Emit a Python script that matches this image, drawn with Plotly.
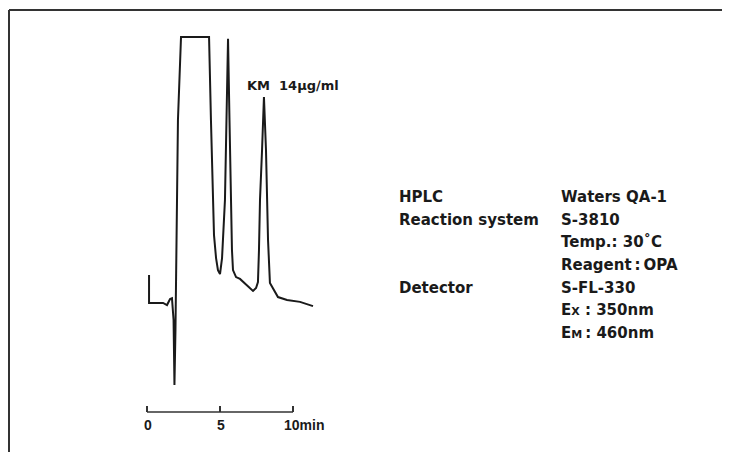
import plotly.graph_objects as go

# Chromatogram trace (retention time in min, detector response in arbitrary units; 100 = off-scale)
time_min = [0.14, 0.14, 1.10, 1.37, 1.58, 1.71, 1.82, 1.88, 1.95, 2.05, 2.12, 2.33,
            4.25, 4.38, 4.52, 4.59, 4.73, 4.86, 5.00, 5.14, 5.34, 5.45, 5.55, 5.65,
            5.75, 5.82, 5.89, 6.10, 6.37, 6.92, 7.26, 7.47, 7.60, 7.67, 7.74, 7.88,
            8.01, 8.15, 8.22, 8.29, 8.42, 8.70, 8.97, 9.59, 10.00, 10.48, 11.37]
response = [10.9, 0.4, 0.4, -0.4, 1.9, 2.2, -6.0, -30.3, -9.7, 39.0, 68.9, 100.0,
            100.0, 68.9, 39.0, 25.8, 17.2, 12.7, 11.2, 17.2, 39.0, 68.9, 99.3, 68.9,
            39.0, 20.2, 12.7, 10.1, 9.4, 6.7, 4.9, 6.0, 8.2, 20.2, 39.0, 57.7,
            77.5, 57.7, 39.0, 24.0, 7.9, 5.2, 2.6, 1.5, 1.1, 0.8, -0.8]

scale_ticks = [0, 5, 10]
scale_labels = ["0", "5", "10min"]
peak_label = "KM\u00a0\u00a014\u03bcg\u2215ml"
peak_label_pos = (8.01, 77.5)

cond_left = ["HPLC", "Reaction system", "", "", "Detector", "", ""]
cond_right = ["Waters QA-1", "S-3810", "Temp.: 30\u02daC", "Reagent\u202f:\u202fOPA", "S-FL-330",
              "E<span style='font-size:11px'>X</span> : 350nm",
              "E<span style='font-size:11px'>M</span>\u202f: 460nm"]

W, H = 730, 452
OFF = 8  # page body margin offset
PX_PER_MIN = 14.6
X0_PX = 147 - OFF
PX_PER_UNIT = 2.67
Y0_PX = 304 - OFF
PAD = 0.08  # min of extra axis range so end ticks are drawn


def px_x(v):
    return (v - OFF) / W


def px_y(v):
    return 1 - (v - OFF) / H


fig = go.Figure()
fig.add_trace(go.Scatter(x=time_min, y=response, mode="lines",
                         line=dict(color="#1a1a1a", width=2), hoverinfo="skip",
                         showlegend=False))
# invisible trace to bind the time-scale axis
fig.add_trace(go.Scatter(x=[scale_ticks[0], scale_ticks[-1]], y=[None, None], xaxis="x2",
                         yaxis="y", mode="lines", showlegend=False, hoverinfo="skip"))

fig.update_layout(
    width=W, height=H, margin=dict(l=0, r=0, t=0, b=0),
    paper_bgcolor="white", plot_bgcolor="rgba(0,0,0,0)",
    xaxis=dict(range=[-X0_PX / PX_PER_MIN, (W - X0_PX) / PX_PER_MIN], visible=False, domain=[0, 1]),
    yaxis=dict(range=[(Y0_PX - H) / PX_PER_UNIT, Y0_PX / PX_PER_UNIT], visible=False, domain=[0, 1]),
    xaxis2=dict(domain=[(X0_PX - PAD * PX_PER_MIN) / W, (X0_PX + (10 + PAD) * PX_PER_MIN) / W],
                range=[-PAD, 10 + PAD],
                anchor="free", position=px_y(412), showline=False,
                ticks="inside", ticklen=6, tickwidth=1.5, tickcolor="#333",
                tickvals=scale_ticks, showticklabels=False, showgrid=False, zeroline=False),
    showlegend=False,
)

# scale bar line (axis baseline from 0 to 10 min)
fig.add_shape(type="line", xref="x2", yref="paper", x0=scale_ticks[0], x1=scale_ticks[-1],
              y0=px_y(412), y1=px_y(412), line=dict(color="#333", width=1.5))

# frame lines
fig.add_shape(type="line", xref="paper", yref="paper", x0=px_x(9), x1=1, y0=px_y(10), y1=px_y(10),
              line=dict(color="#333", width=2))
fig.add_shape(type="line", xref="paper", yref="paper", x0=px_x(9), x1=px_x(9), y0=0, y1=px_y(10),
              line=dict(color="#333", width=2))

# scale labels
for v, lab in zip(scale_ticks, scale_labels):
    if lab.endswith("min"):
        fig.add_annotation(x=v, y=px_y(425), xref="x2", yref="paper", text=lab, showarrow=False,
                           xanchor="left", yanchor="middle", xshift=-11,
                           font=dict(family="Liberation Sans", size=14, color="#1a1a1a", weight="bold"))
    else:
        fig.add_annotation(x=v, y=px_y(425), xref="x2", yref="paper", text=lab, showarrow=False,
                           xanchor="center", yanchor="middle", xshift=1,
                           font=dict(family="Liberation Sans", size=14, color="#1a1a1a", weight="bold"))

# peak label
fig.add_annotation(x=peak_label_pos[0], y=px_y(85), xref="x", yref="paper", text=peak_label,
                   showarrow=False, xanchor="left", yanchor="middle", xshift=-19,
                   font=dict(family="DejaVu Sans", size=13, color="#1a1a1a", weight="bold"))

# conditions block
row_y = [197, 220, 242, 265, 288, 310, 333]
for yy, l, r in zip(row_y, cond_left, cond_right):
    if l:
        fig.add_annotation(x=px_x(397), y=px_y(yy), xref="paper", yref="paper", text=l, showarrow=False,
                           xanchor="left", yanchor="middle",
                           font=dict(family="DejaVu Sans", size=15, color="#1a1a1a", weight="bold"))
    fig.add_annotation(x=px_x(559), y=px_y(yy), xref="paper", yref="paper", text=r, showarrow=False,
                       xanchor="left", yanchor="middle",
                       font=dict(family="DejaVu Sans", size=15, color="#1a1a1a", weight="bold"))

fig.write_html("out.html")
